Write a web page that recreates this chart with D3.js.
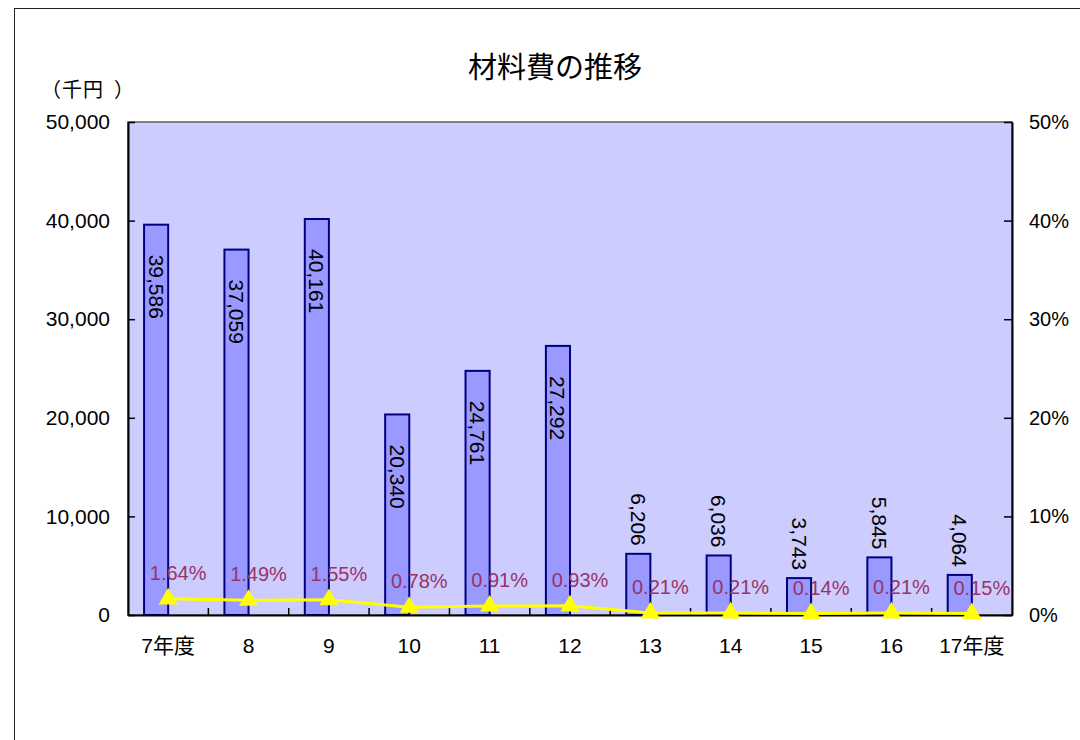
<!DOCTYPE html>
<html>
<head>
<meta charset="utf-8">
<script src="https://cdn.jsdelivr.net/npm/d3@7"></script>
<style>
	html, body { margin: 0; padding: 0; background: #ffffff; }
	svg { display: block; }
</style>
</head>
<body>
<div id="chart"></div>
<script>
// data
const years = ['7年度', '8', '9', '10', '11', '12', '13', '14', '15', '16', '17年度'];
const materialCosts = [39586, 37059, 40161, 20340, 24761, 27292, 6206, 6036, 3743, 5845, 4064];	// 千円
const costRatios = [1.64, 1.49, 1.55, 0.78, 0.91, 0.93, 0.21, 0.21, 0.14, 0.21, 0.15];	// %
const leftTicks = [0, 10000, 20000, 30000, 40000, 50000];
const rightTicks = [0, 10, 20, 30, 40, 50];

const W = 1080, H = 740;
const plot = { left: 128, right: 1012, top: 122, bottom: 615 };
const latin = '"Liberation Sans", Arial, "Noto Sans CJK JP", sans-serif';
const cjk = '"Noto Sans CJK JP", "Liberation Sans", sans-serif';

const svg = d3.select('#chart')
	.append('svg')
	.attr('width', W)
	.attr('height', H);

// chart frame (runs off the right and bottom edges)
svg.append('rect')
	.attr('x', 14.5).attr('y', 8.5)
	.attr('width', 1200).attr('height', 900)
	.attr('fill', '#ffffff')
	.attr('stroke', '#222222');

// title + unit
svg.append('text')
	.attr('x', 555).attr('y', 65)
	.attr('text-anchor', 'middle')
	.attr('dominant-baseline', 'central')
	.style('font-family', cjk)
	.style('font-size', '29px')
	.text('材料費の推移');

const unit = svg.append('text')
	.attr('x', 41).attr('y', 88)
	.attr('dominant-baseline', 'central')
	.style('font-family', cjk)
	.style('font-size', '20px')
	.style('letter-spacing', '1px');
unit.append('tspan').text('（千円');
unit.append('tspan').attr('dx', 10).text('）');

// scales
const x = d3.scaleBand().domain(years).range([plot.left, plot.right]).paddingInner(0).paddingOuter(0);
const y = d3.scaleLinear().domain([0, 50000]).range([plot.bottom, plot.top]);
const y2 = d3.scaleLinear().domain([0, 50]).range([plot.bottom, plot.top]);
const barW = x.bandwidth() * 0.3;
const cx = d => x(d) + x.bandwidth() / 2;

// plot area
svg.append('rect')
	.attr('x', plot.left).attr('y', plot.top)
	.attr('width', plot.right - plot.left)
	.attr('height', plot.bottom - plot.top)
	.attr('fill', '#ccccff')
	.attr('stroke', '#808080')
	.attr('stroke-width', 2);

// bars (first series of a pair, so they sit left of the category centre)
svg.append('g').selectAll('rect')
	.data(materialCosts)
	.enter()
	.append('rect')
	.attr('x', (d, i) => cx(years[i]) - barW)
	.attr('y', d => y(d))
	.attr('width', barW)
	.attr('height', d => y(0) - y(d))
	.attr('fill', '#9999ff')
	.attr('stroke', '#000080')
	.attr('stroke-width', 2);

// axes
const fmt = d3.format(',');
const gLeft = svg.append('g')
	.attr('transform', `translate(${plot.left},0)`)
	.call(d3.axisLeft(y).tickValues(leftTicks).tickFormat(fmt).tickSizeInner(-7).tickSizeOuter(0).tickPadding(18));
const gRight = svg.append('g')
	.attr('transform', `translate(${plot.right},0)`)
	.call(d3.axisRight(y2).tickValues(rightTicks).tickFormat(d => d + '%').tickSizeInner(-8).tickSizeOuter(0).tickPadding(17));
const gBottom = svg.append('g')
	.attr('transform', `translate(0,${plot.bottom})`)
	.call(d3.axisBottom(x).tickSize(0).tickPadding(23));

[gLeft, gRight, gBottom].forEach(g => {
	g.select('.domain').attr('stroke', '#000000').attr('stroke-width', 2);
	g.selectAll('.tick line').attr('stroke', '#000000').attr('stroke-width', 1.5);
	g.selectAll('text')
		.attr('fill', '#000000')
		.style('font-family', latin)
		.style('font-size', '21px');
});
gRight.selectAll('text').style('font-size', '20px');

// category boundary ticks
svg.append('g').selectAll('line')
	.data(years.slice(1))
	.enter()
	.append('line')
	.attr('x1', d => x(d)).attr('x2', d => x(d))
	.attr('y1', plot.bottom).attr('y2', plot.bottom - 7)
	.attr('stroke', '#000000')
	.attr('stroke-width', 1.5);

// bar value labels, rotated
svg.append('g').selectAll('text')
	.data(materialCosts)
	.enter()
	.append('text')
	.attr('transform', (d, i) => {
		const tall = y(0) - y(d) > 100;
		const ty = tall ? y(d) + 30 : y(d) - 8;
		return `translate(${cx(years[i]) - barW / 2},${ty}) rotate(90)`;
	})
	.attr('text-anchor', d => (y(0) - y(d) > 100 ? 'start' : 'end'))
	.attr('dominant-baseline', 'central')
	.attr('fill', '#000000')
	.style('font-family', latin)
	.style('font-size', '21px')
	.text(d => fmt(d));

// ratio line
const line = d3.line()
	.x((d, i) => cx(years[i]))
	.y(d => y2(d));

svg.append('path')
	.datum(costRatios)
	.attr('d', line)
	.attr('fill', 'none')
	.attr('stroke', '#ffff00')
	.attr('stroke-width', 3);

svg.append('g').selectAll('path')
	.data(costRatios)
	.enter()
	.append('path')
	.attr('transform', (d, i) => `translate(${cx(years[i])},${y2(d)})`)
	.attr('d', d3.symbol(d3.symbolTriangle, 160))
	.attr('fill', '#ffff00');

// ratio labels
svg.append('g').selectAll('text')
	.data(costRatios)
	.enter()
	.append('text')
	.attr('x', (d, i) => cx(years[i]) + 10)
	.attr('y', d => y2(d) - 26)
	.attr('text-anchor', 'middle')
	.attr('dominant-baseline', 'central')
	.attr('fill', '#993366')
	.style('font-family', latin)
	.style('font-size', '20px')
	.text(d => d.toFixed(2) + '%');
</script>
</body>
</html>
